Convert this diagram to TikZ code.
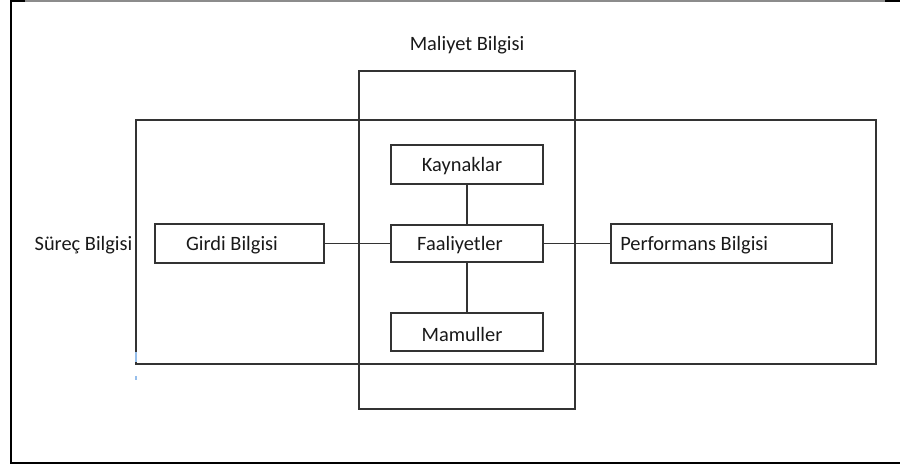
\documentclass[tikz,border=0pt]{standalone}
\usepackage{fontspec}
\setmainfont{Carlito}
\definecolor{markblue}{RGB}{150,190,235}
\begin{document}
\begin{tikzpicture}[x=0.75pt,y=-0.75pt,
  box/.style={draw=black!80,line width=0.8pt,inner sep=0pt,outer sep=0pt,rectangle},
  txt/.style={inner sep=0pt,font=\fontsize{15.3pt}{17pt}\selectfont,text=black!90},
  link/.style={draw=black!80,line width=0.8pt},
  cont/.style={draw=black!80,line width=0.8pt},
  frame/.style={draw=black,line width=2pt}]
\useasboundingbox (0,0) rectangle (900,466);
% outer frame
\draw[draw=black!45,line width=0.9pt] (25,1) -- (885,1);
\draw[frame] (10,1) -- (25,1);
\draw[frame] (885,1) -- (900,1);
\draw[frame] (11,0) -- (11,463) -- (900,463);
% containers
\draw[cont] (136,120) rectangle (876,364);
\draw[cont] (359,71) rectangle (575,409);
\draw[draw=markblue,line width=0.9pt] (136,352) -- (136,362);
\draw[draw=markblue,line width=0.9pt] (136,376) -- (136,380);
% labels
\node[txt] (mal) at (467,45) {Maliyet Bilgisi};
\node[txt] (sur) at (83.5,245) {Süreç Bilgisi};
% boxes
\node[box,minimum width=126.75pt,minimum height=29.25pt] (girdi) at (239.5,243.5) {};
\node[box,minimum width=114pt,minimum height=29.25pt] (kay) at (467,164.5) {};
\node[box,minimum width=114pt,minimum height=27.75pt] (faal) at (467,243.5) {};
\node[box,minimum width=114pt,minimum height=28.5pt] (mam) at (467,332) {};
\node[box,minimum width=165.75pt,minimum height=29.25pt] (perf) at (721.5,243.5) {};
% box texts
\node[txt] (girdit) at (232,245) {Girdi Bilgisi};
\node[txt] (kayt) at (462,166) {Kaynaklar};
\node[txt] (faalt) at (460,245) {Faaliyetler};
\node[txt] (mamt) at (462,334) {Mamuller};
\node[txt,anchor=west] (perft) at (620,245) {Performans Bilgisi};
% connectors
\draw[link] (girdi.east) -- (faal.west);
\draw[link] (faal.east) -- (perf.west);
\draw[link] (kay.south) -- (faal.north);
\draw[link] (faal.south) -- (mam.north);
\end{tikzpicture}
\end{document}
